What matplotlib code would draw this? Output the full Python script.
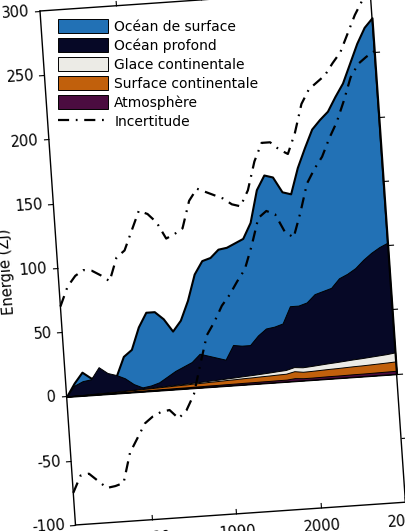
import numpy as np
import matplotlib
matplotlib.use('Agg')
import matplotlib.pyplot as plt
from matplotlib.transforms import Affine2D
from matplotlib.lines import Line2D
import mpl_toolkits.axisartist.floating_axes as floating_axes
from mpl_toolkits.axisartist.grid_finder import FixedLocator, DictFormatter

plt.rcParams['font.family'] = ['DejaVu Sans']

# energy accumulation relative to 1971 (ZJ), one value per year 1971-2010
years = np.arange(1971, 2011)
ocean_surface = [0, 2, 7, 1, -9, -6, -1, 17, 27, 47,
                 57, 55, 45, 31, 36, 48, 62, 74, 78, 86,
                 76, 80, 83, 88, 108, 118, 114, 89, 87, 105,
                 114, 126, 131, 130, 138, 144, 153, 163, 171, 175]
ocean_deep = [0, 7.8, 10.7, 11.5, 20.3, 15.1, 13.0, 9.6, 4.4, 1.0,
              1.8, 3.4, 7.1, 10.8, 13.5, 16.1, 21.8, 19.4, 17.1, 14.6,
              25.2, 23.7, 23.3, 29.8, 34.3, 34.7, 36.2, 47.4, 48.0, 49.5,
              54.9, 56.3, 57.8, 64.2, 66.6, 70.1, 75.5, 79.9, 83.3, 85.4]
land_ice = [0, 0, 0, 0, 0.1, 0.1, 0.1, 0.2, 0.2, 0.3,
            0.3, 0.4, 0.5, 0.5, 0.6, 0.7, 0.8, 0.9, 1.0, 1.2,
            1.4, 1.6, 1.8, 2.0, 2.3, 2.6, 2.9, 3.2, 3.5, 3.8,
            4.1, 4.4, 4.7, 5.0, 5.3, 5.6, 5.9, 6.2, 6.5, 7.0]
land_surface = [0, 0.1, 0.2, 0.3, 0.4, 0.5, 0.6, 0.8, 1.0, 1.2,
                1.4, 1.6, 1.8, 2.0, 2.2, 2.4, 2.6, 2.8, 3.0, 3.2,
                3.4, 3.6, 3.8, 4.0, 4.2, 4.4, 4.6, 5.4, 5.0, 5.2,
                5.4, 5.6, 5.8, 6.0, 6.2, 6.4, 6.6, 6.8, 7.0, 7.3]
atmosphere = [0, 0.1, 0.1, 0.2, 0.2, 0.3, 0.3, 0.4, 0.4, 0.5,
              0.5, 0.6, 0.6, 0.7, 0.7, 0.8, 0.8, 0.9, 0.9, 1.0,
              1.0, 1.1, 1.1, 1.2, 1.2, 1.3, 1.3, 2.0, 1.5, 1.5,
              1.6, 1.7, 1.7, 1.8, 1.9, 1.9, 2.0, 2.1, 2.2, 2.3]
uncert_high = [70, 85, 93, 97, 96, 92, 87, 105, 110, 125,
               140, 137, 130, 117, 120, 124, 145, 154, 151, 148,
               145, 140, 138, 150, 172, 186, 186, 180, 176, 192,
               214, 225, 230, 235, 244, 252, 266, 280, 291, 304]
uncert_low = [-75, -62, -61, -67, -73, -72, -70, -47, -36, -25,
              -20, -17, -16, -23, -17, -5, 18, 40, 50, 62,
              70, 80, 89, 107, 128, 133, 130, 116, 111, 130,
              152, 163, 172, 186, 198, 214, 232, 242, 247, 251]

labels = ['Océan de surface', 'Océan profond', 'Glace continentale',
          'Surface continentale', 'Atmosphère', 'Incertitude']
colors = ['#2271b5', '#060826', '#ecebe6', '#c1600c', '#4b0c40']
xticks = [1980, 1990, 2000, 2010]
yticks = [-100, -50, 0, 50, 100, 150, 200, 250, 300]

# the chart in the picture is tilted by about 4 degrees
tr = Affine2D().translate(-1971, 0).scale(8.48, 1.288).rotate_deg(3.95)
gh = floating_axes.GridHelperCurveLinear(
    tr, extremes=(1971, 2010, -100, 300),
    grid_locator1=FixedLocator(xticks), grid_locator2=FixedLocator(yticks),
    tick_formatter1=DictFormatter({v: str(v) for v in xticks}),
    tick_formatter2=DictFormatter({v: str(v) for v in yticks}))

fig = plt.figure(figsize=(4.05, 5.31), dpi=100)
c = tr.transform([[1971, -100], [2010, -100], [1971, 300], [2010, 300]])
lo, hi = c.min(0), c.max(0)
w, h = hi - lo
left = 40 - (c[2, 0] - lo[0]) - 0.01 * w
bottom = (531 - 11) - (c[2, 1] - lo[1]) - 0.01 * h
ax = fig.add_axes([left / 405, bottom / 531, 1.02 * w / 405, 1.02 * h / 531],
                  axes_class=floating_axes.FloatingAxes, grid_helper=gh)
aux = ax.get_aux_axes(tr)

# stacked tops, bottom layer first
parts = [atmosphere, land_surface, land_ice, ocean_deep, ocean_surface]
tops = np.cumsum(np.array(parts, dtype=float), axis=0)
for i, k in enumerate([4, 3, 2, 1, 0]):
    lw = 1.5 if k == 4 else 0.7
    aux.fill_between(years, 0, tops[k], facecolor=colors[i],
                     edgecolor='black', linewidth=lw, zorder=2 + i)

dash = (5, 3, 0.8, 3)
aux.plot(years, uncert_high, color='black', lw=1.6, dashes=dash, zorder=8)
aux.plot(years, uncert_low, color='black', lw=1.6, dashes=dash, zorder=8)

leg_handles = [plt.Rectangle((0, 0), 1, 1, facecolor=col, edgecolor='black', linewidth=0.7)
               for col in colors]
leg_handles.append(Line2D([], [], color='black', lw=1.6, dashes=dash))
ax.legend(leg_handles, labels, loc='upper left', bbox_to_anchor=(58 / 405, 1 - 19 / 531),
          bbox_transform=fig.transFigure, frameon=False, fontsize=10,
          handlelength=3.6, handleheight=1.15, labelspacing=0.32,
          handletextpad=0.45, borderpad=0, borderaxespad=0)

for side in ['left', 'right', 'bottom', 'top']:
    ax.axis[side].set_zorder(12)
    ax.axis[side].line.set_linewidth(1.0)
    ax.axis[side].major_ticks.set_ticksize(4)
    ax.axis[side].major_ticklabels.set_fontsize(10.5)
ax.axis['left'].major_ticks.set_tick_out(True)
ax.axis['right'].major_ticks.set_tick_out(True)
ax.axis['top'].major_ticks.set_tick_out(True)
for side in ['right', 'top']:
    ax.axis[side].toggle(ticklabels=False, label=False)
    ax.axis[side].major_ticklabels.set_color('none')
ax.axis['bottom'].major_ticklabels.set_pad(8)
ax.axis['left'].label.set_text('Energie (ZJ)')
ax.axis['left'].label.set_fontsize(10.5)
ax.axis['left'].label.set_pad(0)
ax.axis['left'].label.set_visible(True)

fig.savefig('out.png', dpi=100)
